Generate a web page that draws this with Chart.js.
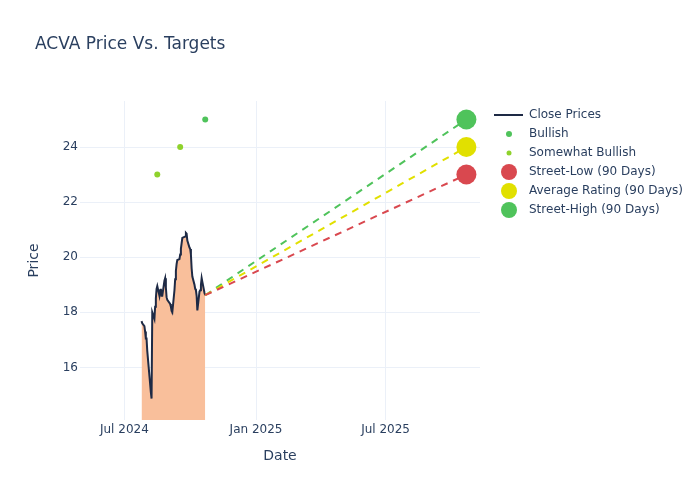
<!DOCTYPE html>
<html><head><meta charset="utf-8">
<script src="https://cdn.jsdelivr.net/npm/chart.js@4.4.1/dist/chart.umd.min.js"></script>
<style>html,body{margin:0;padding:0;background:#fff}#wrap{width:700px;height:500px;position:relative}</style>
</head><body><div id="wrap"><canvas id="c" width="700" height="500"></canvas></div>
<script>
const closeDates = ['2024-07-25','2024-07-26','2024-07-29','2024-07-30','2024-07-31','2024-08-01','2024-08-02',
 '2024-08-05','2024-08-06','2024-08-07','2024-08-08','2024-08-09','2024-08-12','2024-08-13','2024-08-14','2024-08-15','2024-08-16',
 '2024-08-19','2024-08-20','2024-08-21','2024-08-22','2024-08-23','2024-08-26','2024-08-27','2024-08-28','2024-08-29','2024-08-30',
 '2024-09-03','2024-09-04','2024-09-05','2024-09-06','2024-09-09','2024-09-10','2024-09-11','2024-09-12','2024-09-13',
 '2024-09-16','2024-09-17','2024-09-18','2024-09-19','2024-09-20','2024-09-23','2024-09-24','2024-09-25','2024-09-26','2024-09-27',
 '2024-09-30','2024-10-01','2024-10-02','2024-10-03','2024-10-04','2024-10-07','2024-10-08','2024-10-09','2024-10-10','2024-10-11',
 '2024-10-14','2024-10-15','2024-10-16','2024-10-17','2024-10-18','2024-10-21','2024-10-22'];
const closePrices = [17.68,17.6,17.5,17.3,17.05,17.05,16.6,
 15.7,15.4,15.1,14.87,18.0,17.76,18.2,18.5,18.85,18.95,
 18.6,18.8,18.85,18.6,18.6,19.15,19.24,18.9,18.55,18.45,
 18.3,18.2,18.05,18.0,18.8,19.2,19.5,19.75,19.9,
 19.93,20.1,20.3,20.5,20.7,20.74,20.75,20.88,20.85,20.6,
 20.35,20.3,20.1,19.6,19.3,19.0,18.85,18.8,18.6,18.07,
 18.75,18.8,19.0,19.24,19.1,18.7,18.62];
const bullishDates = ['2024-10-22'];
const bullishTargets = [25];
const somewhatBullishDates = ['2024-08-16','2024-09-17'];
const somewhatBullishTargets = [23, 24];
const targetDate = '2025-10-22';
const streetLow = 23;
const averageRating = 24;
const streetHigh = 25;
const yTicks = [16, 18, 20, 22, 24];
const xTickDates = ['2024-07-01', '2025-01-01', '2025-07-01'];
const xTickLabels = ['Jul 2024', 'Jan 2025', 'Jul 2025'];
const xRange = ['2024-04-30', '2025-11-10'];
const yRange = [14.09, 25.67];

const ts = s => Date.parse(s + 'T00:00:00Z');
const pts = (ds, vs) => ds.map((d, i) => ({x: ts(d), y: vs[i]}));

const INK = '#2a3f5f';
const FONT = 'DejaVu Sans';
const C_LINE = '#1e2a45', C_FILL = '#f9bf9b';
const C_GREEN = '#4fc35b', C_LIME = '#8fd22c', C_RED = '#d9484f', C_YEL = '#e1e000';

const lastPt = {x: ts(closeDates[closeDates.length - 1]), y: closePrices[closePrices.length - 1]};
const tgtX = ts(targetDate);

const datasets = [
  {label: 'Close Prices', data: pts(closeDates, closePrices), borderColor: C_LINE, backgroundColor: C_FILL,
   borderWidth: 2, fill: 'origin', pointRadius: 0, tension: 0, order: 10, legendType: 'line'},
  {label: 'Bullish', data: pts(bullishDates, bullishTargets), showLine: false, pointRadius: 3,
   backgroundColor: C_GREEN, borderColor: C_GREEN, borderWidth: 0, order: 2, legendR: 3},
  {label: 'Somewhat Bullish', data: pts(somewhatBullishDates, somewhatBullishTargets), showLine: false, pointRadius: 3,
   backgroundColor: C_LIME, borderColor: C_LIME, borderWidth: 0, order: 2, legendR: 2.5},
  {label: 'low-line', data: [lastPt, {x: tgtX, y: streetLow}], borderColor: C_RED, borderWidth: 2, borderDash: [7, 6],
   pointRadius: 0, fill: false, order: 5, hideLegend: true},
  {label: 'avg-line', data: [lastPt, {x: tgtX, y: averageRating}], borderColor: C_YEL, borderWidth: 2, borderDash: [7, 6],
   pointRadius: 0, fill: false, order: 5, hideLegend: true},
  {label: 'high-line', data: [lastPt, {x: tgtX, y: streetHigh}], borderColor: C_GREEN, borderWidth: 2, borderDash: [7, 6],
   pointRadius: 0, fill: false, order: 5, hideLegend: true},
  {label: 'Street-Low (90 Days)', data: [{x: tgtX, y: streetLow}], showLine: false, pointRadius: 10,
   backgroundColor: C_RED, borderColor: C_RED, borderWidth: 0, order: 1, legendR: 8},
  {label: 'Average Rating (90 Days)', data: [{x: tgtX, y: averageRating}], showLine: false, pointRadius: 10,
   backgroundColor: C_YEL, borderColor: C_YEL, borderWidth: 0, order: 1, legendR: 8},
  {label: 'Street-High (90 Days)', data: [{x: tgtX, y: streetHigh}], showLine: false, pointRadius: 10,
   backgroundColor: C_GREEN, borderColor: C_GREEN, borderWidth: 0, order: 1, legendR: 8}
];

const decor = {
  id: 'decor',
  afterDraw(chart) {
    const ctx = chart.ctx;
    ctx.save();
    ctx.fillStyle = INK;
    ctx.font = '17px "' + FONT + '"';
    ctx.textAlign = 'left';
    ctx.textBaseline = 'middle';
    ctx.fillText('ACVA Price Vs. Targets', 35, 45);
    // legend
    const x0 = 494, y0 = 115, step = 19;
    ctx.font = '12px "' + FONT + '"';
    let i = 0;
    chart.data.datasets.forEach(ds => {
      if (ds.hideLegend) return;
      const y = y0 + i * step;
      if (ds.legendType === 'line') {
        ctx.strokeStyle = ds.borderColor; ctx.lineWidth = 2;
        ctx.beginPath(); ctx.moveTo(x0, y); ctx.lineTo(x0 + 29, y); ctx.stroke();
      } else {
        ctx.fillStyle = ds.backgroundColor;
        ctx.beginPath(); ctx.arc(x0 + 15, y, ds.legendR, 0, Math.PI * 2); ctx.fill();
      }
      ctx.fillStyle = INK;
      ctx.fillText(ds.label, x0 + 35, y);
      i++;
    });
    ctx.restore();
  }
};

new Chart(document.getElementById('c'), {
  type: 'line',
  data: {datasets},
  plugins: [decor],
  options: {
    responsive: false,
    animation: false,
    layout: {padding: {left: 0, right: 220, top: 101, bottom: 0}},
    plugins: {legend: {display: false}, title: {display: false}, tooltip: {enabled: false}},
    scales: {
      x: {
        type: 'linear', min: ts(xRange[0]), max: ts(xRange[1]),
        afterFit: s => { s.height = 80; },
        afterBuildTicks: s => { s.ticks = xTickDates.map(d => ({value: ts(d)})); },
        ticks: {
          padding: 3, color: INK, font: {family: FONT, size: 12}, maxRotation: 0, autoSkip: false,
          callback: v => { const k = xTickDates.findIndex(d => ts(d) === v); return k >= 0 ? xTickLabels[k] : ''; }
        },
        grid: {color: '#ebf0f8', lineWidth: 1, drawTicks: false},
        border: {display: false},
        title: {display: true, text: 'Date', color: INK, font: {family: FONT, size: 14}, padding: {top: 0, bottom: 35.6}}
      },
      y: {
        type: 'linear', min: yRange[0], max: yRange[1],
        afterFit: s => { s.width = 80; },
        afterBuildTicks: s => { s.ticks = yTicks.map(v => ({value: v})); },
        ticks: {padding: 2, color: INK, font: {family: FONT, size: 12}, callback: v => String(v)},
        grid: {color: '#ebf0f8', lineWidth: 1, drawTicks: false},
        border: {display: false},
        title: {display: true, text: 'Price', color: INK, font: {family: FONT, size: 14}, padding: {top: 25.6, bottom: 0}}
      }
    }
  }
});
</script></body></html>
